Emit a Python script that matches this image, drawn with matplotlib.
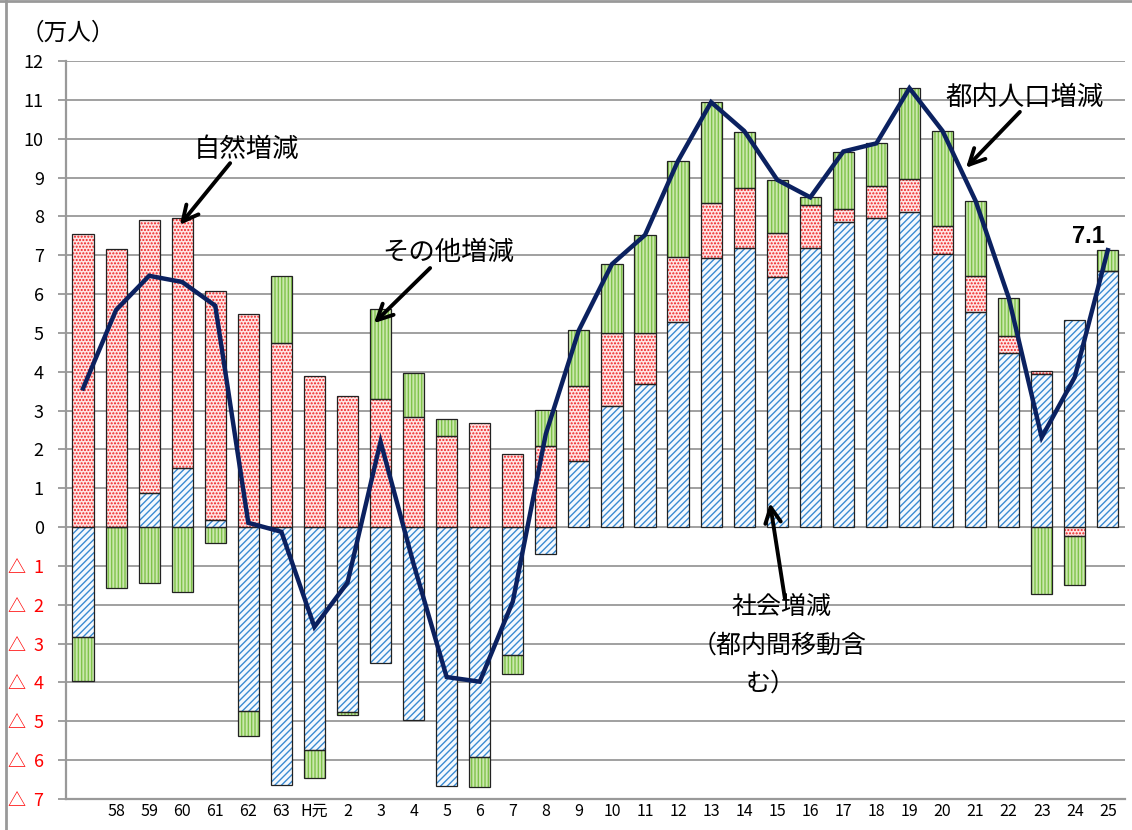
import numpy as np
import matplotlib
matplotlib.use('Agg')
import matplotlib.pyplot as plt
from matplotlib.lines import Line2D

plt.rcParams['font.family'] = ['Noto Sans CJK JP', 'DejaVu Sans']
plt.rcParams['hatch.linewidth'] = 1.0

# years: S57..S63, H元..H25  (unit: 万人)
years = ['', '58', '59', '60', '61', '62', '63', 'H元', '2', '3', '4', '5', '6', '7', '8',
         '9', '10', '11', '12', '13', '14', '15', '16', '17', '18', '19', '20', '21',
         '22', '23', '24', '25']

# 社会増減 (都内間移動含む)
social = [-2.84, 0.0, 0.87, 1.51, 0.18, -4.73, -6.64, -5.74, -4.77, -3.49, -4.97, -6.67,
          -5.93, -3.30, -0.68, 1.70, 3.13, 3.68, 5.27, 6.92, 7.19, 6.44, 7.19, 7.85, 7.97,
          8.10, 7.02, 5.53, 4.47, 3.94, 5.32, 6.60]
# 自然増減
natural = [7.54, 7.17, 7.03, 6.44, 5.90, 5.48, 4.74, 3.90, 3.38, 3.30, 2.84, 2.35, 2.69,
           1.87, 2.09, 1.93, 1.88, 1.31, 1.68, 1.42, 1.53, 1.12, 1.10, 0.34, 0.81, 0.85,
           0.74, 0.93, 0.45, 0.08, -0.22, 0.0]
# その他増減
other = [-1.13, -1.58, -1.45, -1.66, -0.42, -0.66, 1.72, -0.73, -0.07, 2.32, 1.14, 0.44,
         -0.77, -0.49, 0.92, 1.44, 1.76, 2.53, 2.48, 2.60, 1.45, 1.38, 0.20, 1.48, 1.10,
         2.35, 2.44, 1.94, 0.99, -1.71, -1.26, 0.53]
# 都内人口増減
total = [3.57, 5.59, 6.47, 6.31, 5.70, 0.11, -0.12, -2.57, -1.43, 2.20, -0.95, -3.86,
         -3.98, -1.92, 2.40, 5.07, 6.77, 7.52, 9.43, 10.94, 10.20, 8.94, 8.49, 9.67, 9.88,
         11.30, 10.20, 8.40, 5.91, 2.31, 3.86, 7.13]

x = np.arange(len(years))
w = 0.64

fig = plt.figure(figsize=(11.32, 8.30), dpi=100)
ax = fig.add_axes([66/1132, 1-799/830, (1125-66)/1132, (799-61)/830])

pos_base = np.zeros(len(x))
neg_base = np.zeros(len(x))
series = [
    (social, '#f4f9fe', '#3a8ad2', '/////'),
    (natural, '#ffe4e4', '#ee2020', '.....'),
    (other, '#cbe8ae', '#7fc24a', '|||||'),
]
for vals, face, hc, hatch in series:
    vals = np.array(vals)
    bottom = np.where(vals >= 0, pos_base, neg_base)
    ax.bar(x, vals, bottom=bottom, width=w, color=face, edgecolor=hc, hatch=hatch,
           lw=0, zorder=2)
    ax.bar(x, vals, bottom=bottom, width=w, fill=False, edgecolor='#222222', lw=0.9,
           zorder=3)
    pos_base = pos_base + np.where(vals >= 0, vals, 0)
    neg_base = neg_base + np.where(vals < 0, vals, 0)

ax.plot(x, total, color='#0b2160', lw=3.2, zorder=4, solid_joinstyle='miter')

ax.set_xlim(-0.515, 31.52)
ax.set_ylim(-7, 12)
ax.set_yticks(range(-7, 13))
ylabels = []
for v in range(-7, 13):
    ylabels.append('△  %d' % -v if v < 0 else str(v))
ax.set_yticklabels(ylabels, fontsize=13)
for lab, v in zip(ax.get_yticklabels(), range(-7, 13)):
    if v < 0:
        lab.set_color('red')
ax.set_xticks(x)
ax.set_xticklabels(years, fontsize=11.5)
ax.tick_params(axis='x', length=0, pad=3)
ax.tick_params(axis='y', length=6, width=1.3, color='#999999', pad=10)
ax.grid(axis='y', color='#a0a0a0', lw=1.4, zorder=0)
ax.set_axisbelow(True)
for s in ['top', 'right']:
    ax.spines[s].set_visible(False)
for s in ['left', 'bottom']:
    ax.spines[s].set_color('#999999')
    ax.spines[s].set_linewidth(1.6)

arrow = dict(arrowstyle='->', color='black', lw=2.8, mutation_scale=28,
             shrinkA=0, shrinkB=0)
ax.annotate('', xy=(2.93, 7.78), xytext=(4.45, 9.37), arrowprops=arrow, zorder=5)
ax.text(4.96, 9.71, '自然増減', fontsize=19, ha='center', va='center')
ax.annotate('', xy=(8.80, 5.25), xytext=(10.50, 6.67), arrowprops=arrow, zorder=5)
ax.text(11.04, 7.06, 'その他増減', fontsize=19, ha='center', va='center')
ax.annotate('', xy=(26.71, 9.25), xytext=(28.34, 10.69), arrowprops=arrow, zorder=5)
ax.text(28.49, 11.07, '都内人口増減', fontsize=19, ha='center', va='center')
ax.annotate('', xy=(20.78, 0.62), xytext=(21.23, -1.83), arrowprops=arrow, zorder=5)
ax.text(21.14, -2.06, '社会増減', fontsize=18, ha='center', va='center')
ax.text(21.05, -3.04, '（都内間移動含', fontsize=18, ha='center', va='center')
ax.text(20.80, -4.02, 'む）', fontsize=18, ha='center', va='center')
ax.text(30.40, 7.47, '7.1', fontsize=17, fontweight='bold', ha='center', va='center',
        family='Liberation Sans')

fig.text(68/1132, 1-33/830, '（万人）', fontsize=17, ha='center', va='center')

fig.add_artist(Line2D([5.5/1132, 5.5/1132], [0, 1], color='#999999', lw=2))
fig.add_artist(Line2D([0, 1], [1-1.5/830, 1-1.5/830], color='#999999', lw=2))

fig.savefig('out.png', dpi=100)
